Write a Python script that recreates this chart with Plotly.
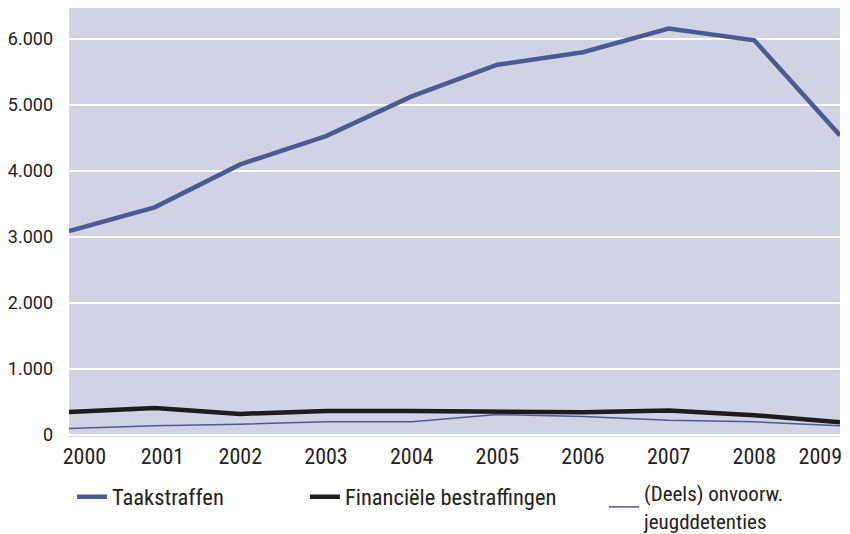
import plotly.graph_objects as go

years = [2000, 2001, 2002, 2003, 2004, 2005, 2006, 2007, 2008, 2009]
taakstraffen = [3090, 3450, 4100, 4530, 5130, 5610, 5800, 6160, 5980, 4540]
financieel = [350, 410, 320, 365, 365, 360, 345, 370, 300, 195]
jeugddetentie = [100, 140, 165, 200, 200, 310, 280, 225, 200, 140]
y_ticks = [0, 1000, 2000, 3000, 4000, 5000, 6000]
y_tick_labels = ["0", "1.000", "2.000", "3.000", "4.000", "5.000", "6.000"]

FONT = "Liberation Sans Narrow, Roboto Condensed, Arial Narrow, Liberation Sans, sans-serif"
BLUE = "#4b5b92"
BLACK = "#1c1c1c"

fig = go.Figure()
fig.add_trace(go.Scatter(x=years, y=taakstraffen, mode="lines", name="Taakstraffen",
                         line=dict(color=BLUE, width=4.5), legend="legend"))
fig.add_trace(go.Scatter(x=years, y=financieel, mode="lines", name="Financiële bestraffingen",
                         line=dict(color=BLACK, width=4.5), legend="legend2"))
fig.add_trace(go.Scatter(x=years, y=jeugddetentie, mode="lines",
                         name="(Deels) onvoorw.<br>jeugddetenties",
                         line=dict(color=BLUE, width=1.5), legend="legend3"))

# tick label positions: edge labels shifted inward as in the original
xt = list(years)
xt[0] = years[0] + 0.18
xt[1] = years[1] + 0.09
xt[-1] = years[-1] - 0.23

def legend_style(size):
    return dict(orientation="h", yanchor="middle", xanchor="left",
                font=dict(family=FONT, size=size, color="#222"),
                bgcolor="rgba(0,0,0,0)", itemwidth=30)

# the page body adds an 8px offset, so the figure is sized to fill the rest
fig.update_layout(
    width=842, height=526,
    margin=dict(l=61, r=10, t=0, b=97, autoexpand=False),
    paper_bgcolor="white",
    plot_bgcolor="#d0d3e4",
    font=dict(family=FONT, size=17, color="#222"),
    xaxis=dict(range=[2000, 2009], tickvals=xt, ticktext=[str(y) for y in years],
               showgrid=False, zeroline=False, showline=False, ticks="", automargin=False,
               tickfont=dict(family=FONT, size=22, color="#222"), ticklabelstandoff=4),
    yaxis=dict(range=[-30, 6470], tickvals=y_ticks, ticktext=y_tick_labels,
               showgrid=True, gridcolor="white", gridwidth=2, zeroline=False, automargin=False,
               showline=False, ticks="", ticklabelstandoff=15,
               tickfont=dict(family="Roboto, Liberation Sans, sans-serif", size=18, color="#222")),
    showlegend=True,
    legend=dict(x=0.004, y=-0.14, **legend_style(22.5)),
    legend2=dict(x=0.306, y=-0.14, **legend_style(22.5)),
    legend3=dict(x=0.694, y=-0.1634, **legend_style(21)),
)

fig.write_html("out.html")
